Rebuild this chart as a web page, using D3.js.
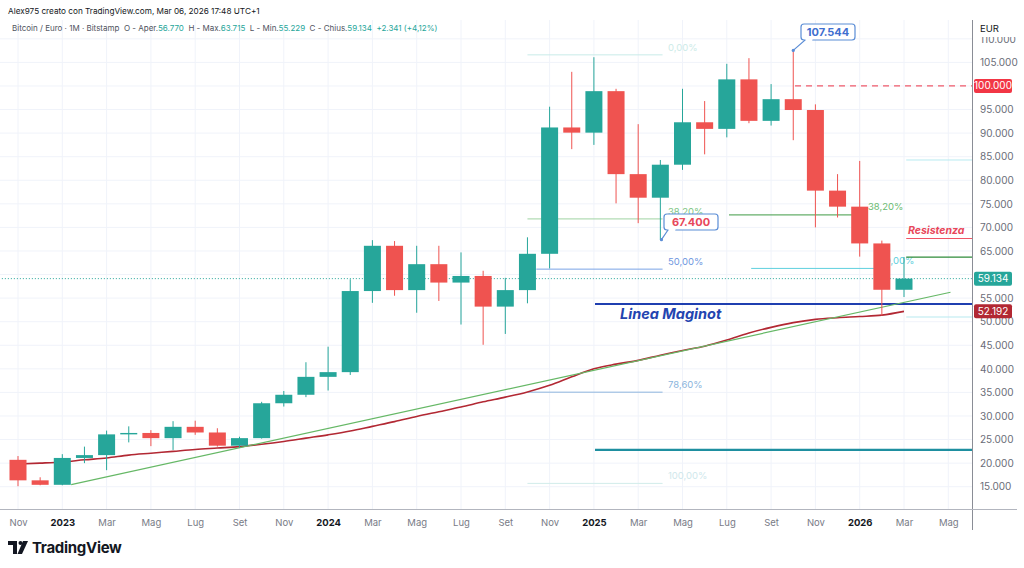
<!DOCTYPE html>
<html>
<head>
<meta charset="utf-8">
<script src="https://cdn.jsdelivr.net/npm/d3@7"></script>
<style>
  body { margin: 0; background: #fff; }
  svg { display: block; font-family: Inter, "Noto Sans", sans-serif; }
</style>
</head>
<body>
<div id="chart"></div>
<script>
// monthly BTC/EUR candles, Nov 2022 .. Mar 2026
var opens  = [20700,16350,15400,21100,21700,26100,26400,25300,27700,26500,23700,25300,32700,34500,38300,39300,56500,66100,56700,62200,58300,59700,53200,56700,64400,91200,90100,98900,81300,76300,83300,92300,90900,101400,92600,97200,94900,77800,74400,66600,56770];
var highs  = [21500,17000,21900,23500,26900,27800,27000,28900,29000,27400,25600,33000,35300,41400,44700,59000,67300,67100,66100,66100,64700,60800,59300,67900,95600,103000,106100,99400,91900,84300,99400,96800,104700,105900,100400,107544,96100,81300,84100,67200,63715];
var lows   = [15100,15300,15300,20000,18500,24400,23600,22800,26000,23500,23300,25200,32000,34000,35400,38700,54000,55500,51900,54400,49400,45100,47400,53900,61300,86600,87500,75100,70900,67400,82200,85500,89100,92100,91600,88500,70000,72100,63800,51300,55229];
var closes = [16350,15400,21100,21700,26100,26400,25300,27700,26500,23700,25300,32700,34500,38300,39300,56500,66100,56700,62200,58300,59700,53200,56700,64400,91200,90100,98900,81300,76300,83300,92300,90900,101400,92600,97200,94900,77800,74400,66600,56770,59134];
// dark red moving average
var maValues = [19800,20000,20250,20700,21100,21700,22100,22500,22900,23200,23500,24000,24600,25300,26000,26800,27800,28800,29900,30900,31900,33000,34000,35100,36500,38300,40000,41000,41800,42900,43900,44800,46100,47600,48800,49800,50500,50850,51100,51400,52192];

var timeLabels = ["Nov","2023","Mar","Mag","Lug","Set","Nov","2024","Mar","Mag","Lug","Set","Nov","2025","Mar","Mag","Lug","Set","Nov","2026","Mar","Mag"];
var timeIdx = [0,2,4,6,8,10,12,14,16,18,20,22,24,26,28,30,32,34,36,38,40,42];
var priceTicks = [15000,20000,25000,30000,35000,40000,45000,50000,55000,60000,65000,70000,75000,80000,85000,90000,95000,100000,105000,110000];
var hiddenTicks = [60000,100000]; // covered by the price tags

// green trendline from the Jan 2023 low
var trendIdx = [2.4, 42.1];
var trendPrice = [15450, 56250];

// fibonacci levels (left drawing)
var fibLabels = ["0,00%","38,20%","50,00%","78,60%","100,00%"];
var fibPrices = [106600,71800,61150,35050,15700];
var fibColors = ["#c9ebe8","#9fd3a3","#7aa3e6","#8fb6dd","#d2ecea"];
var fibText   = ["#cdebe8","#7cc483","#6f97e0","#8ab4dc","#cfe8ec"];

var W = 1024, H = 568;
var plotRight = 972, plotTop = 20, plotBottom = 509;

var fmt = d3.formatLocale({decimal: ",", thousands: ".", grouping: [3], currency: ["", ""]}).format(",");

var svg = d3.select("#chart").append("svg")
    .attr("width", W)
    .attr("height", H);

var x = d3.scaleLinear().domain([0, 40]).range([18, 904]);
var y = d3.scaleLinear().domain([15000, 105000]).range([486.7, 62.4]);

var plot = svg.append("g");

// grid
plot.selectAll(".hg").data(priceTicks).enter().append("line")
    .attr("x1", 0).attr("x2", plotRight)
    .attr("y1", d => y(d)).attr("y2", d => y(d))
    .attr("stroke", "#f0f3fa");
plot.selectAll(".vg").data(timeIdx).enter().append("line")
    .attr("x1", d => x(d)).attr("x2", d => x(d))
    .attr("y1", plotTop).attr("y2", plotBottom)
    .attr("stroke", "#f0f3fa");

// helper for horizontal drawings
function hline(i0, i1, price, color, w, dash) {
  plot.append("line")
    .attr("x1", x(i0)).attr("x2", i1 == null ? plotRight : x(i1))
    .attr("y1", y(price)).attr("y2", y(price))
    .attr("stroke", color).attr("stroke-width", w)
    .attr("stroke-dasharray", dash || null);
}

// last price dotted line
hline(-1, null, closes[closes.length - 1], "#26a69a", 1, "1,2");

// left fib
fibPrices.forEach(function(p, i) {
  hline(i == 2 ? 23.4 : 23, 29.1, p, fibColors[i], 1);
  plot.append("text")
    .attr("x", 668).attr("y", y(p) - 4)
    .attr("font-size", 9.5).attr("fill", fibText[i])
    .text(fibLabels[i]);
});

// right fib
hline(32.1, 38.3, 72650, "#3f9a45", 1);
hline(33.1, 39.05, 61300, "#5fd0de", 1);
plot.append("text").attr("x", 868).attr("y", 210).attr("font-size", 9.5).attr("fill", "#6cbb72").text("38,20%");
plot.append("text").attr("x", 879).attr("y", 264).attr("font-size", 9.5).attr("fill", "#5fd0de").text("50,00%");

// right side levels
hline(40.1, null, 84300, "#b8eaf0", 1);
hline(40.1, null, 51000, "#b8eaf0", 1.2);
hline(40.1, null, 67650, "#f05466", 1.2);
hline(40.1, null, 63715, "#2e8b3a", 1.2);
hline(35.08, null, 100000, "#ef5a6a", 1.2, "6,5");

// Maginot and support
hline(26.05, null, 53750, "#1f3fb0", 2.2);
hline(26.05, null, 22800, "#1e8fa0", 2.2);

// moving average and trendline
var line = d3.line()
    .x(function(d, i) { return x(i); })
    .y(function(d) { return y(d); })
    .curve(d3.curveMonotoneX);
plot.append("path")
    .attr("d", line(maValues))
    .attr("fill", "none")
    .attr("stroke", "#b22833")
    .attr("stroke-width", 1.6);
plot.append("line")
    .attr("x1", x(trendIdx[0])).attr("y1", y(trendPrice[0]))
    .attr("x2", x(trendIdx[1])).attr("y2", y(trendPrice[1]))
    .attr("stroke", "#66b866").attr("stroke-width", 1.2);

// candles
var bw = 17;
var candles = plot.selectAll(".c").data(opens).enter().append("g");
candles.append("line")
    .attr("x1", (d, i) => x(i)).attr("x2", (d, i) => x(i))
    .attr("y1", (d, i) => y(highs[i])).attr("y2", (d, i) => y(lows[i]))
    .attr("stroke", (d, i) => closes[i] >= d ? "#26a69a" : "#ef5350");
candles.append("rect")
    .attr("x", (d, i) => x(i) - bw / 2)
    .attr("width", bw)
    .attr("y", (d, i) => y(Math.max(d, closes[i])))
    .attr("height", (d, i) => Math.max(1, Math.abs(y(d) - y(closes[i]))))
    .attr("fill", (d, i) => closes[i] >= d ? "#26a69a" : "#ef5350");

// text drawings
plot.append("text")
    .attr("x", 620).attr("y", 319)
    .attr("font-size", 14.5).attr("font-weight", 700).attr("font-style", "italic")
    .attr("fill", "#2344b0")
    .text("Linea Maginot");
plot.append("text")
    .attr("x", 908).attr("y", 234)
    .attr("font-size", 10.5).attr("font-weight", 700).attr("font-style", "italic")
    .attr("fill", "#e8475a")
    .text("Resistenza");

// callouts
function callout(idx, price, bx, by, label, color) {
  var ax = x(idx), ay = y(price);
  var g = plot.append("g");
  g.append("path")
    .attr("d", "M" + ax + "," + ay + " L" + (bx + 4) + "," + (by + 16) + " L" + (bx + 12) + "," + (by + 16))
    .attr("fill", "#fff").attr("stroke", "#5b8dd6").attr("stroke-width", 1.2);
  g.append("rect")
    .attr("x", bx).attr("y", by).attr("width", 54).attr("height", 16).attr("rx", 3)
    .attr("fill", "#fff").attr("stroke", "#5b8dd6").attr("stroke-width", 1.2);
  g.append("line")
    .attr("x1", bx + 4.5).attr("x2", bx + 11.5).attr("y1", by + 16).attr("y2", by + 16)
    .attr("stroke", "#fff").attr("stroke-width", 2);
  g.append("circle").attr("cx", ax).attr("cy", ay).attr("r", 1.6).attr("fill", "#5b8dd6");
  g.append("text")
    .attr("x", bx + 27).attr("y", by + 12)
    .attr("text-anchor", "middle").attr("font-size", 11).attr("font-weight", 700)
    .attr("fill", color).text(label);
}
callout(35, 107544, 801, 24, "107.544", "#3f6fcf");
callout(29.05, 67400, 664, 214, "67.400", "#e8475a");

// price axis
svg.append("rect").attr("x", plotRight).attr("y", 0).attr("width", W - plotRight).attr("height", plotBottom).attr("fill", "#fff");
var yAxis = svg.append("g")
    .attr("transform", "translate(" + plotRight + ",0)")
    .call(d3.axisRight(y).tickValues(priceTicks.filter(d => hiddenTicks.indexOf(d) < 0))
      .tickSize(0).tickPadding(8).tickFormat(fmt));
yAxis.select(".domain").remove();
yAxis.selectAll("text").attr("font-size", 10).attr("fill", "#6a6d78").attr("font-family", "Inter, sans-serif");

svg.append("rect").attr("x", plotRight + 1).attr("y", 20).attr("width", 45).attr("height", 17).attr("fill", "#fff");
svg.append("text").attr("x", 980).attr("y", 32).attr("font-size", 9.5).attr("fill", "#131722").text("EUR");

function priceTag(price, bg) {
  svg.append("rect")
    .attr("x", plotRight + 2).attr("y", y(price) - 7).attr("width", 38).attr("height", 14).attr("rx", 2)
    .attr("fill", bg);
  svg.append("text")
    .attr("x", plotRight + 21).attr("y", y(price) + 3.5).attr("text-anchor", "middle")
    .attr("font-size", 10).attr("fill", "#fff").text(fmt(price));
}
priceTag(100000, "#f23645");
priceTag(closes[closes.length - 1], "#26a69a");
priceTag(maValues[maValues.length - 1], "#b22833");

svg.append("line").attr("x1", plotRight + 0.5).attr("x2", plotRight + 0.5).attr("y1", plotTop).attr("y2", 530).attr("stroke", "#8a8d96");
svg.append("line").attr("x1", 0).attr("x2", 1017).attr("y1", plotBottom + 0.5).attr("y2", plotBottom + 0.5).attr("stroke", "#b2b5be");

// time axis
var xAxis = svg.append("g")
    .attr("transform", "translate(0," + plotBottom + ")")
    .call(d3.axisBottom(x).tickValues(timeIdx).tickSize(0).tickPadding(10)
      .tickFormat(function(d, i) { return timeLabels[i]; }));
xAxis.select(".domain").remove();
xAxis.selectAll("text")
    .attr("font-size", 9.5)
    .attr("font-family", "Inter, sans-serif")
    .attr("fill", function(d, i) { return /^\d/.test(timeLabels[i]) ? "#131722" : "#787b86"; })
    .attr("font-weight", function(d, i) { return /^\d/.test(timeLabels[i]) ? 700 : 400; });

// header
svg.append("text").attr("x", 8).attr("y", 14).attr("font-size", 8.2).attr("fill", "#131722")
    .text("Alex975 creato con TradingView.com, Mar 06, 2026 17:48 UTC+1");
var legend = svg.append("text").attr("x", 12).attr("y", 31).attr("font-size", 8).attr("fill", "#50535e");
var legParts = [
  ["Bitcoin / Euro · 1M · Bitstamp  O - Aper.", "#50535e"], ["56.770", "#26a69a"],
  ["  H - Max.", "#50535e"], ["63.715", "#26a69a"],
  ["  L - Min.", "#50535e"], ["55.229", "#26a69a"],
  ["  C - Chius.", "#50535e"], ["59.134", "#26a69a"],
  ["  +2.341 (+4,12%)", "#26a69a"]
];
legend.selectAll("tspan").data(legParts).enter().append("tspan")
    .attr("fill", d => d[1]).attr("xml:space", "preserve").style("white-space", "pre")
    .text(d => d[0]);

// footer logo
var logo = svg.append("g").attr("transform", "translate(8,541)");
logo.append("path").attr("d", "M0,0 H9 V13 H5 V4 H0 Z").attr("fill", "#131722");
logo.append("circle").attr("cx", 12.5).attr("cy", 2).attr("r", 2).attr("fill", "#131722");
logo.append("path").attr("d", "M15,0 H20 L14,13 H9.5 Z").attr("fill", "#131722");
svg.append("text").attr("x", 32).attr("y", 553).attr("font-size", 15).attr("font-weight", 700)
    .attr("fill", "#131722").attr("letter-spacing", -0.3).text("TradingView");
</script>
</body>
</html>
